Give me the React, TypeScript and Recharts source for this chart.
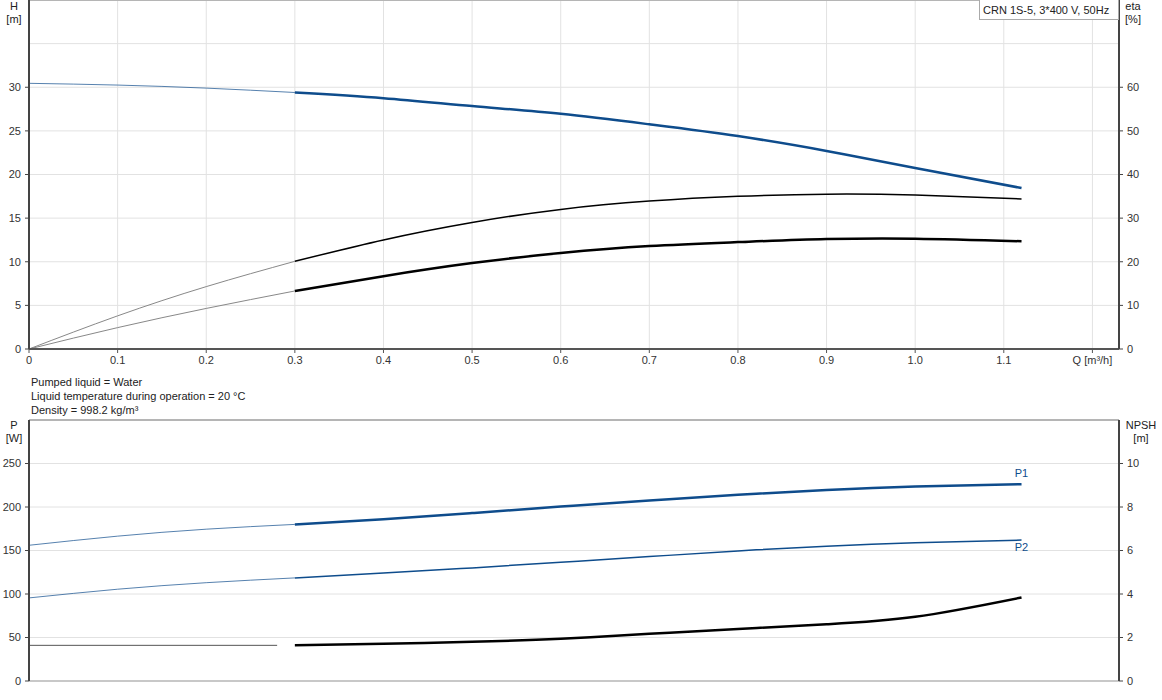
import React from "react";
import {
  ComposedChart,
  Line,
  XAxis,
  YAxis,
  CartesianGrid,
  ReferenceLine,
} from "recharts";

// ---- data ----
const qTicks = [0, 0.1, 0.2, 0.3, 0.4, 0.5, 0.6, 0.7, 0.8, 0.9, 1.0, 1.1, 1.2];
const hTicks = [0, 5, 10, 15, 20, 25, 30];
const etaTicks = [0, 10, 20, 30, 40, 50, 60];
const pTicks = [0, 50, 100, 150, 200, 250];
const npshTicks = [0, 2, 4, 6, 8, 10];

const qThin = [0, 0.1, 0.2, 0.3];
const qThick = [0.3, 0.4, 0.5, 0.6, 0.7, 0.8, 0.9, 1.0, 1.12];

const hThin = [30.45, 30.25, 29.9, 29.4];
const hThick = [29.4, 28.75, 27.85, 26.95, 25.75, 24.4, 22.7, 20.75, 18.45];

const eta1Thin = [0, 7.6, 14.3, 20.1];
const eta1Thick = [20.1, 25.0, 29.0, 32.0, 33.9, 35.0, 35.5, 35.3, 34.4];

const eta2Thin = [0, 4.9, 9.3, 13.3];
const eta2Thick = [13.3, 16.7, 19.7, 22.0, 23.6, 24.5, 25.2, 25.3, 24.7];

const p1Thin = [156, 166.5, 174.5, 180];
const p1Thick = [180, 186, 193, 200.5, 207.5, 214, 219.5, 223.5, 226.2];

const p2Thin = [95.5, 105.5, 113, 118.5];
const p2Thick = [118.5, 124, 130, 136.5, 143, 149.5, 155, 159, 162];

const qNpshThin = [0, 0.28];
const npshThin = [1.64, 1.64];
const npshThick = [1.64, 1.71, 1.8, 1.94, 2.17, 2.39, 2.61, 2.95, 3.84];

const infoLines = [
  "Pumped liquid = Water",
  "Liquid temperature during operation = 20 °C",
  "Density = 998.2 kg/m³",
];
const legendText = "CRN 1S-5, 3*400 V, 50Hz";

// ---- helpers ----
const rows = (qs: number[], vs: number[]) => qs.map((q, i) => ({ q, v: vs[i] }));

const BLUE = "#0e4c8c";
const FONT = "'Liberation Sans', Arial, Helvetica, sans-serif";
const tickStyle = { fontSize: 11, fill: "#333", fontFamily: FONT };
const gridColor = "#e2e2e2";
const axisDark = { stroke: "#444", strokeWidth: 2 };
const CURVE = "natural";

const qFmt = (v: number) => {
  if (v === 0) return "0";
  if (Math.abs(v - 1.2) < 1e-6) return "Q [m³/h]";
  return v.toFixed(1);
};

const endLabel = (text: string, dy: number, lastIdx: number) => (props: any) => {
  if (props.index !== lastIdx) return null;
  return (
    <text
      x={props.x}
      y={props.y + dy}
      fill={BLUE}
      fontSize={11}
      fontFamily={FONT}
      textAnchor="middle"
    >
      {text}
    </text>
  );
};

const abs = (left: number, top: number, extra: React.CSSProperties = {}): React.CSSProperties => ({
  position: "absolute",
  left,
  top,
  fontSize: 11,
  fontFamily: FONT,
  color: "#222",
  lineHeight: "13px",
  whiteSpace: "nowrap",
  ...extra,
});

export default function App() {
  const lastIdx = qThick.length - 1;
  return (
    <div
      style={{
        position: "absolute",
        left: 0,
        top: 0,
        width: 1162,
        height: 700,
        background: "#fff",
        overflow: "hidden",
      }}
    >
      {/* Top chart */}
      <div style={{ position: "absolute", left: 0, top: -10 }}>
        <ComposedChart width={1162} height={400} margin={{ top: 10, right: 0, left: 0, bottom: 0 }}>
          <CartesianGrid stroke={gridColor} strokeWidth={1} yAxisId="h" />
          <XAxis
            type="number"
            dataKey="q"
            domain={[0, 1.23]}
            ticks={qTicks}
            tickFormatter={qFmt}
            allowDataOverflow
            height={41}
            tick={tickStyle}
            tickSize={4}
            tickMargin={3}
            axisLine={{ stroke: "#555", strokeWidth: 2 }}
            tickLine={{ stroke: "#555" }}
            interval={0}
          />
          <YAxis
            yAxisId="h"
            orientation="left"
            domain={[0, 40]}
            ticks={hTicks}
            width={29}
            tick={tickStyle}
            tickSize={4}
            tickMargin={4}
            axisLine={axisDark}
            tickLine={{ stroke: "#444" }}
            allowDataOverflow
          />
          <YAxis
            yAxisId="eta"
            orientation="right"
            domain={[0, 80]}
            ticks={etaTicks}
            width={43}
            tick={{ ...tickStyle, textAnchor: "start" }}
            tickSize={4}
            tickMargin={4}
            axisLine={axisDark}
            tickLine={{ stroke: "#444" }}
            allowDataOverflow
          />
          <ReferenceLine yAxisId="h" y={35} stroke={gridColor} strokeWidth={1} />
          <ReferenceLine yAxisId="h" y={40} stroke="#b5b5b5" strokeWidth={2} />

          <Line data={rows(qThin, eta1Thin)} dataKey="v" yAxisId="eta" type={CURVE} dot={false}
            stroke="#888" strokeWidth={1} isAnimationActive={false} />
          <Line data={rows(qThin, eta2Thin)} dataKey="v" yAxisId="eta" type={CURVE} dot={false}
            stroke="#888" strokeWidth={1} isAnimationActive={false} />
          <Line data={rows(qThick, eta1Thick)} dataKey="v" yAxisId="eta" type={CURVE} dot={false}
            stroke="#000" strokeWidth={1.5} isAnimationActive={false} />
          <Line data={rows(qThick, eta2Thick)} dataKey="v" yAxisId="eta" type={CURVE} dot={false}
            stroke="#000" strokeWidth={2.5} isAnimationActive={false} />
          <Line data={rows(qThin, hThin)} dataKey="v" yAxisId="h" type={CURVE} dot={false}
            stroke={BLUE} strokeOpacity={0.7} strokeWidth={1} isAnimationActive={false} />
          <Line data={rows(qThick, hThick)} dataKey="v" yAxisId="h" type={CURVE} dot={false}
            stroke={BLUE} strokeWidth={2.5} isAnimationActive={false} />
        </ComposedChart>
      </div>

      {/* Bottom chart */}
      <div style={{ position: "absolute", left: 0, top: 400 }}>
        <ComposedChart width={1162} height={300} margin={{ top: 20, right: 0, left: 0, bottom: 0 }}>
          <CartesianGrid stroke={gridColor} strokeWidth={1} yAxisId="p" />
          <XAxis
            type="number"
            dataKey="q"
            domain={[0, 1.23]}
            ticks={qTicks}
            allowDataOverflow
            height={19}
            tick={false}
            tickLine={false}
            axisLine={{ stroke: "#c8c8c8", strokeWidth: 2 }}
            interval={0}
          />
          <YAxis
            yAxisId="p"
            orientation="left"
            domain={[0, 300]}
            ticks={pTicks}
            width={29}
            tick={tickStyle}
            tickSize={4}
            tickMargin={4}
            axisLine={axisDark}
            tickLine={{ stroke: "#444" }}
            allowDataOverflow
          />
          <YAxis
            yAxisId="n"
            orientation="right"
            domain={[0, 12]}
            ticks={npshTicks}
            width={43}
            tick={{ ...tickStyle, textAnchor: "start" }}
            tickSize={4}
            tickMargin={4}
            axisLine={axisDark}
            tickLine={{ stroke: "#444" }}
            allowDataOverflow
          />
          <ReferenceLine yAxisId="p" y={300} stroke="#b5b5b5" strokeWidth={2} />

          <Line data={rows(qNpshThin, npshThin)} dataKey="v" yAxisId="n" type="linear" dot={false}
            stroke="#555" strokeWidth={1} isAnimationActive={false} />
          <Line data={rows(qThick, npshThick)} dataKey="v" yAxisId="n" type={CURVE} dot={false}
            stroke="#000" strokeWidth={2.5} isAnimationActive={false} />
          <Line data={rows(qThin, p2Thin)} dataKey="v" yAxisId="p" type={CURVE} dot={false}
            stroke={BLUE} strokeOpacity={0.7} strokeWidth={1} isAnimationActive={false} />
          <Line data={rows(qThick, p2Thick)} dataKey="v" yAxisId="p" type={CURVE} dot={false}
            stroke={BLUE} strokeWidth={1.5} isAnimationActive={false}
            label={endLabel("P2", 11, lastIdx)} />
          <Line data={rows(qThin, p1Thin)} dataKey="v" yAxisId="p" type={CURVE} dot={false}
            stroke={BLUE} strokeOpacity={0.7} strokeWidth={1} isAnimationActive={false} />
          <Line data={rows(qThick, p1Thick)} dataKey="v" yAxisId="p" type={CURVE} dot={false}
            stroke={BLUE} strokeWidth={2.5} isAnimationActive={false}
            label={endLabel("P1", -7, lastIdx)} />
        </ComposedChart>
      </div>

      {/* Axis titles */}
      <div style={abs(0, 0, { width: 28, textAlign: "center" })}>H<br />[m]</div>
      <div style={abs(1120, 0, { width: 26, textAlign: "center" })}>eta<br />[%]</div>
      <div style={abs(0, 419, { width: 28, textAlign: "center" })}>P<br />[W]</div>
      <div style={abs(1124, 419, { width: 34, textAlign: "center" })}>NPSH<br />[m]</div>

      {/* Info text */}
      <div style={abs(31, 375, { lineHeight: "14px" })}>
        {infoLines.map((t) => (
          <div key={t}>{t}</div>
        ))}
      </div>

      {/* Legend box */}
      <div
        style={abs(979, -1, {
          width: 140,
          height: 21,
          boxSizing: "border-box",
          border: "1px solid #aaa",
          background: "#fff",
          paddingLeft: 3,
          lineHeight: "20px",
        })}
      >
        {legendText}
      </div>
    </div>
  );
}
